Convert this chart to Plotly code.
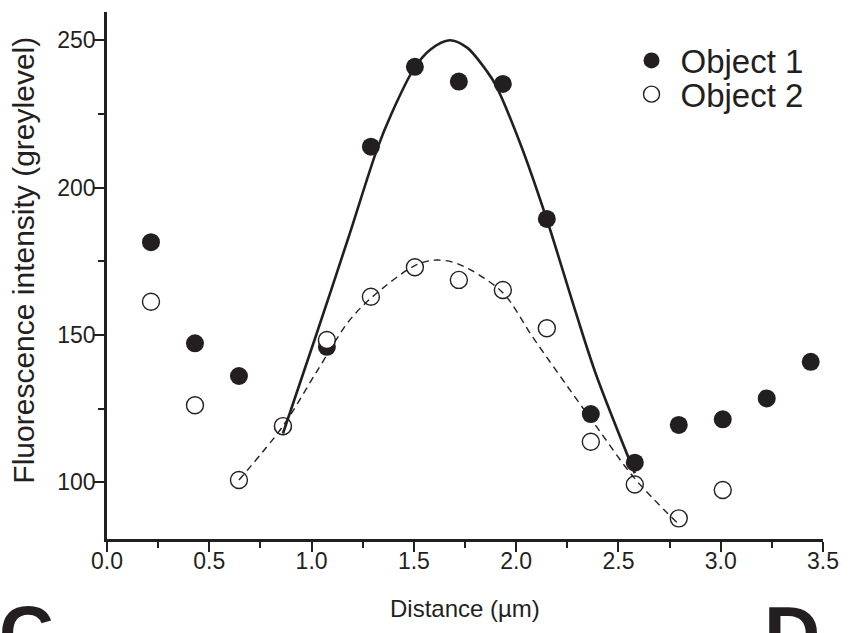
import plotly.graph_objects as go

# ---- data ----
x1 = [0.215, 0.43, 0.645, 0.86, 1.075, 1.29, 1.505, 1.72, 1.935, 2.15, 2.365, 2.58, 2.795, 3.01, 3.225, 3.44]
y1 = [181.5, 147.2, 136.1, 119.0, 146.0, 213.9, 241.0, 236.0, 235.2, 189.4, 123.2, 106.7, 119.5, 121.4, 128.5, 140.9]

x2 = [0.215, 0.43, 0.645, 0.86, 1.075, 1.29, 1.505, 1.72, 1.935, 2.15, 2.365, 2.58, 2.795, 3.01]
y2 = [161.3, 126.2, 100.8, 119.1, 148.3, 163.0, 173.0, 168.7, 165.3, 152.3, 113.8, 99.3, 87.8, 97.4]

# fitted curves
fit1_x = [0.86, 1.02, 1.18, 1.32, 1.39, 1.50, 1.58, 1.675, 1.76, 1.86, 1.90, 2.02, 2.15, 2.29, 2.39, 2.58]
fit1_y = [116.6, 149.5, 183.0, 213.0, 225.0, 240.3, 246.8, 250.0, 247.5, 239.2, 234.8, 215.0, 189.2, 158.0, 136.7, 103.1]

fit2_x = [0.645, 0.86, 1.02, 1.18, 1.29, 1.50, 1.60, 1.71, 1.93, 2.08, 2.31, 2.39, 2.575, 2.79]
fit2_y = [100.8, 119.1, 137.0, 154.5, 162.5, 173.4, 175.4, 174.3, 164.7, 149.4, 126.8, 119.2, 101.7, 86.1]

series_names = ["Object 1", "Object 2"]
x_title = "Distance (µm)"
y_title = "Fluorescence intensity (greylevel)"
panel_labels = ["C", "D"]
x_range = [0, 3.5]
y_range = [80.8, 259.6]

FONT = "Liberation Sans, Arial, Helvetica, sans-serif"
INK = "#231f20"

fig = go.Figure()

fig.add_trace(go.Scatter(
    x=x1, y=y1, mode="markers", name=series_names[0], legend="legend",
    marker=dict(symbol="circle", size=18, color=INK, line=dict(width=0)),
))
fig.add_trace(go.Scatter(
    x=x2, y=y2, mode="markers", name=series_names[1], legend="legend2",
    marker=dict(symbol="circle", size=17, color="white", line=dict(width=1.4, color=INK)),
))
fig.add_trace(go.Scatter(
    x=fit1_x, y=fit1_y, mode="lines", showlegend=False,
    line=dict(color=INK, width=2.6, shape="spline", smoothing=0.9),
))
fig.add_trace(go.Scatter(
    x=fit2_x, y=fit2_y, mode="lines", showlegend=False,
    line=dict(color=INK, width=1.4, dash="7px,5px", shape="spline", smoothing=0.9),
))

axis_common = dict(
    showline=True, linecolor=INK, linewidth=2.6,
    ticks="outside", ticklen=10, tickwidth=2.4, tickcolor=INK,
    showgrid=False, zeroline=False, mirror=False,
    tickfont=dict(family=FONT, size=23, color=INK),
)

fig.update_xaxes(
    range=x_range, dtick=0.5, tick0=0, tickformat=".1f",
    minor=dict(ticks="outside", dtick=0.25, ticklen=6, tickwidth=2.4, tickcolor=INK),
    ticklabelstandoff=-10,
    **axis_common,
)
fig.update_yaxes(
    range=y_range, dtick=50, tick0=0,
    minor=dict(ticks="outside", dtick=25, ticklen=6, tickwidth=2.4, tickcolor=INK),
    ticklabelstandoff=-6,
    **axis_common,
)

legend_common = dict(
    xanchor="left", yanchor="middle",
    font=dict(family=FONT, size=33, color=INK),
    bgcolor="rgba(0,0,0,0)", itemwidth=48,
)

fig.update_layout(
    width=851, height=633,
    margin=dict(l=107, r=22, t=12, b=94),
    paper_bgcolor="white", plot_bgcolor="white",
    showlegend=True,
    legend=dict(x=0.720, y=0.908, **legend_common),
    legend2=dict(x=0.720, y=0.844, **legend_common),
    annotations=[
        dict(text=x_title, xref="paper", yref="paper", x=0.5, y=-0.131,
             xanchor="center", yanchor="middle", showarrow=False,
             font=dict(family=FONT, size=24, color=INK)),
        dict(text=y_title, xref="paper", yref="paper", x=-0.116, y=0.53,
             xanchor="center", yanchor="middle", textangle=-90, showarrow=False,
             font=dict(family=FONT, size=30, color=INK)),
        dict(text="<b>" + panel_labels[0] + "</b>", xref="paper", yref="paper", x=-0.154, y=-0.093,
             xanchor="left", yanchor="top", showarrow=False,
             font=dict(family=FONT, size=76, color=INK)),
        dict(text="<b>" + panel_labels[1] + "</b>", xref="paper", yref="paper", x=0.9155, y=-0.093,
             xanchor="left", yanchor="top", showarrow=False,
             font=dict(family=FONT, size=78, color=INK)),
    ],
)

fig.write_html(
    "out.html",
    config={"displayModeBar": False},
    post_script="document.body.style.margin='0px';document.body.style.overflow='hidden';",
)
